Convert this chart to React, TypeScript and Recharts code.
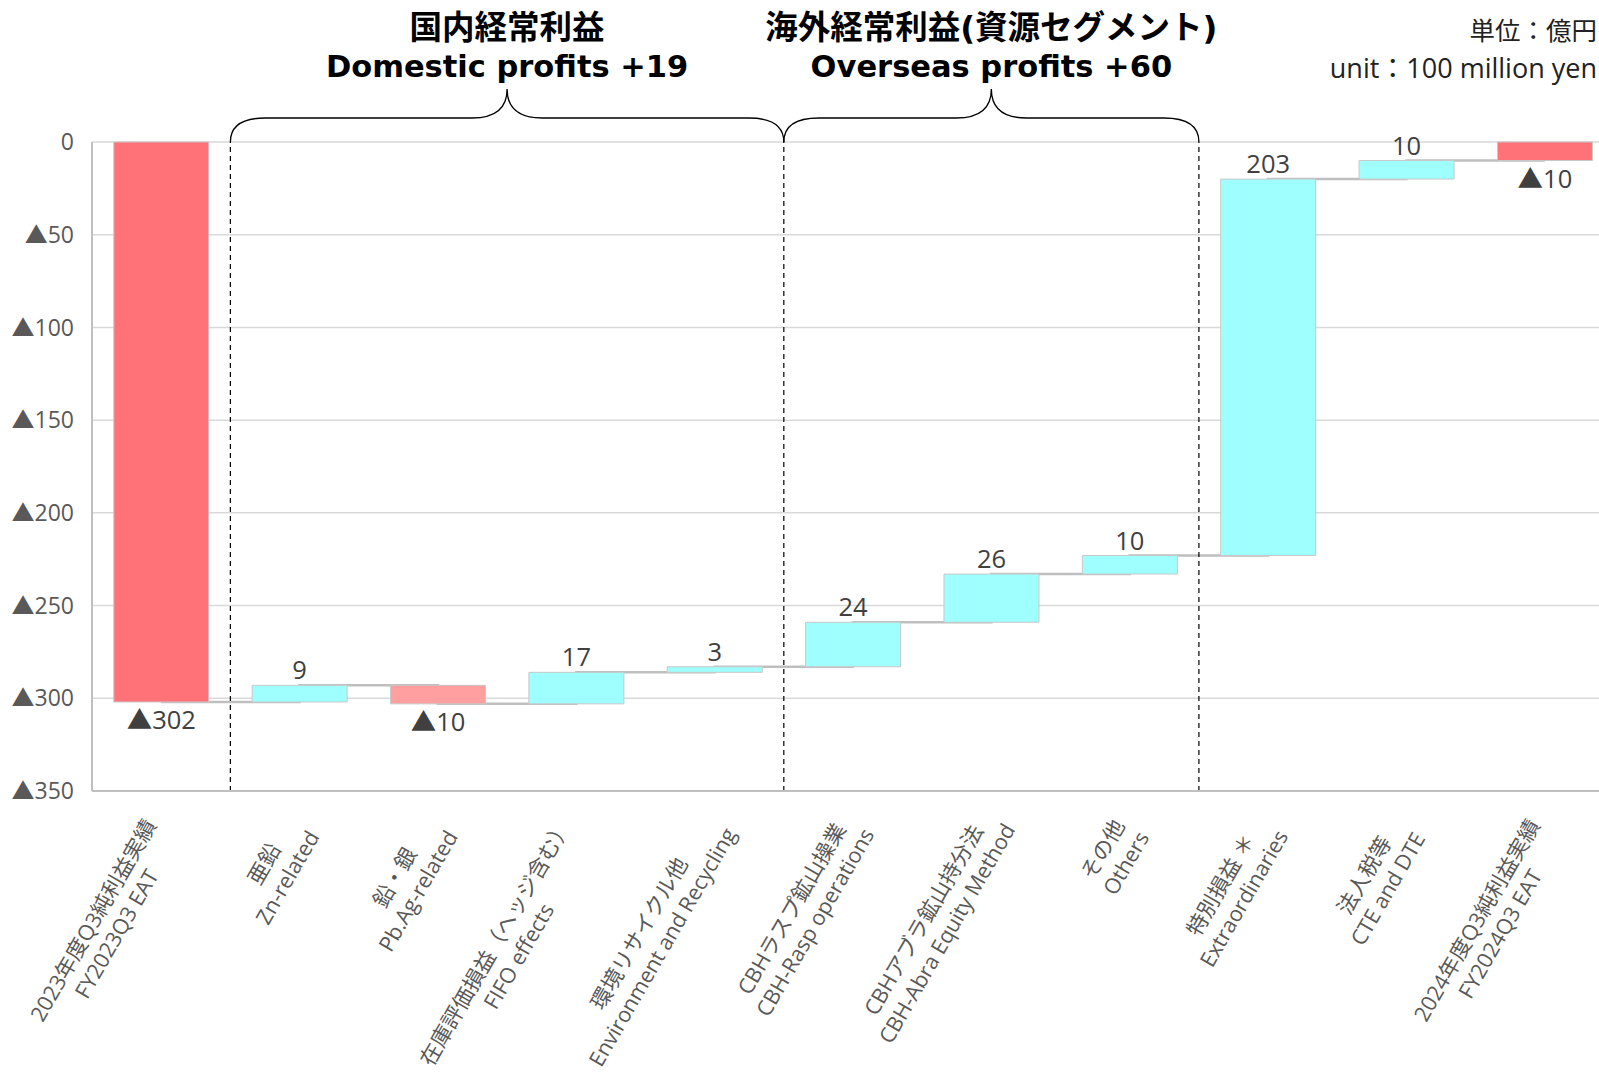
import React from 'react'
import {
  ComposedChart,
  Bar,
  Line,
  XAxis,
  YAxis,
  CartesianGrid,
  Cell,
  LabelList,
  ReferenceLine,
  ReferenceArea,
} from 'recharts'

// categories (JA / EN lines of each axis label)
const catJa = [
  '2023年度Q3純利益実績',
  '亜鉛',
  '鉛・銀',
  '在庫評価損益（ヘッジ含む）',
  '環境リサイクル他',
  'CBHラスプ鉱山操業',
  'CBHアブラ鉱山持分法',
  'その他',
  '特別損益 ＊',
  '法人税等',
  '2024年度Q3純利益実績',
]
const catEn = [
  'FY2023Q3 EAT',
  'Zn-related',
  'Pb.Ag-related',
  'FIFO effects',
  'Environment and Recycling',
  'CBH-Rasp operations',
  'CBH-Abra Equity Method',
  'Others',
  'Extraordinaries',
  'CTE and DTE',
  'FY2024Q3 EAT',
]
// change per step (億円)
const deltas = [-302, 9, -10, 17, 3, 24, 26, 10, 203, 10, -10]
const isTotal = [true, false, false, false, false, false, false, false, false, false, true]
const yTicks = [0, -50, -100, -150, -200, -250, -300, -350]

const COLOR_TOTAL = '#FF7378'
const COLOR_UP = '#9FFFFF'
const COLOR_DOWN = '#FF9F9F'
const FONT = "'Open Sans', 'Noto Sans CJK JP', sans-serif"
const TITLE_FONT = "'DejaVu Sans', 'Noto Sans CJK JP', sans-serif"

let running = 0
const data = catEn.map((en, i) => {
  const d = deltas[i]
  const start = isTotal[i] ? 0 : running
  const end = start + d
  running = end
  return {
    en,
    range: [Math.min(start, end), Math.max(start, end)],
    level: end,
    lbl: d < 0 ? `▲${-d}` : `${d}`,
    color: isTotal[i] ? COLOR_TOTAL : d < 0 ? COLOR_DOWN : COLOR_UP,
  }
})

// rough text width, good enough to centre the two label lines
const textW = (s: string, fs: number) => {
  let w = 0
  for (const ch of s) {
    const c = ch.codePointAt(0) || 0
    if (c > 0x2e80) w += 1
    else if (ch === ' ') w += 0.26
    else if ("iljtfr.,:;'!|-".includes(ch)) w += 0.3
    else if (/[A-Z0-9]/.test(ch)) w += 0.6
    else w += 0.55
  }
  return w * fs
}

const CatTick = (props: any) => {
  const { x, y, payload } = props
  const i = catEn.indexOf(payload.value)
  const fs = 21.5
  const w = Math.max(textW(catJa[i], fs), textW(catEn[i], fs))
  const common = {
    x: -w / 2,
    textAnchor: 'middle' as const,
    dominantBaseline: 'central' as const,
    fontSize: fs,
    fill: '#595959',
    fontFamily: FONT,
  }
  return (
    <g transform={`translate(${x},${y + 37}) rotate(-60)`}>
      <text {...common} y={-13.5}>{catJa[i]}</text>
      <text {...common} y={13.5}>{catEn[i]}</text>
    </g>
  )
}

const ValueLabel = (p: any) => {
  const { x, y, width, height, value } = p
  const top = Math.min(y, y + height)
  const bottom = Math.max(y, y + height)
  const neg = String(value).startsWith('▲')
  return (
    <text
      x={x + width / 2}
      y={neg ? bottom + 17 : top - 16}
      textAnchor="middle"
      dominantBaseline="central"
      fontSize={25.5}
      fill="#404040"
      fontFamily={FONT}
    >
      {value}
    </text>
  )
}

const braceShape = (ja: string, en: string) => (p: any) => {
  const { x, y, width } = p
  const x1 = x
  const x2 = x + width
  const cx = x + width / 2
  const yh = y - 24
  const yt = y - 53
  const r = 35
  const d = `M${x1},${y} Q${x1},${yh} ${x1 + r},${yh} L${cx - r},${yh} Q${cx},${yh} ${cx},${yt} Q${cx},${yh} ${cx + r},${yh} L${x2 - r},${yh} Q${x2},${yh} ${x2},${y}`
  return (
    <g>
      <path d={d} fill="none" stroke="#000" strokeWidth={1.3} />
      <text x={cx} y={y - 114} textAnchor="middle" dominantBaseline="central" fontSize={32.5} fontWeight="bold" fill="#000" fontFamily={TITLE_FONT}>
        {ja}
      </text>
      <text x={cx} y={y - 76} textAnchor="middle" dominantBaseline="central" fontSize={30.5} fontWeight="bold" fill="#000" fontFamily={TITLE_FONT}>
        {en}
      </text>
    </g>
  )
}

const unitStyle = {
  position: 'absolute' as const,
  right: 2,
  textAlign: 'right' as const,
  fontFamily: FONT,
  color: '#222',
  whiteSpace: 'nowrap' as const,
  zIndex: 2,
}

export default function App() {
  return (
    <div style={{ position: 'absolute', left: 0, top: 0, width: 1599, height: 1073, background: '#fff', overflow: 'hidden' }}>
      <div style={{ ...unitStyle, top: 18, fontSize: 25.5, lineHeight: '25.5px' }}>単位：億円</div>
      <div style={{ ...unitStyle, top: 54, fontSize: 27, lineHeight: '27px' }}>unit：100 million yen</div>
      <ComposedChart
        width={1599}
        height={1073}
        data={data}
        margin={{ top: 142, right: -15, left: 0, bottom: 0 }}
        barCategoryGap="15.75%"
      >
        <CartesianGrid stroke="#D9D9D9" strokeWidth={1.5} vertical={false} />
        <XAxis
          dataKey="en"
          height={282}
          interval={0}
          tickLine={false}
          tickSize={0}
          tickMargin={0}
          axisLine={{ stroke: '#BFBFBF', strokeWidth: 2 }}
          tick={<CatTick />}
        />
        <YAxis
          width={92}
          domain={[-350, 0]}
          ticks={yTicks}
          interval={0}
          tickLine={false}
          tickSize={0}
          tickMargin={18}
          axisLine={{ stroke: '#BFBFBF', strokeWidth: 2 }}
          tick={{ fontSize: 23, fill: '#595959', fontFamily: FONT }}
          tickFormatter={(v: number) => (v === 0 ? '0' : `▲${-v}`)}
        />
        <Line
          type="stepAfter"
          dataKey="level"
          stroke="#BFBFBF"
          strokeWidth={2.5}
          dot={false}
          activeDot={false}
          isAnimationActive={false}
          zIndex={250}
        />
        <Bar dataKey="range" stroke="#C8C8C8" strokeWidth={1} isAnimationActive={false}>
          {data.map((d) => (
            <Cell key={d.en} fill={d.color} />
          ))}
          <LabelList dataKey="lbl" content={<ValueLabel />} />
        </Bar>
        <ReferenceLine x={catEn[1]} position="start" stroke="#000" strokeDasharray="5 4" strokeWidth={1.2} />
        <ReferenceLine x={catEn[5]} position="start" stroke="#000" strokeDasharray="5 4" strokeWidth={1.2} />
        <ReferenceLine x={catEn[8]} position="start" stroke="#000" strokeDasharray="5 4" strokeWidth={1.2} />
        <ReferenceArea
          x1={catEn[1]}
          x2={catEn[4]}
          ifOverflow="visible"
          shape={braceShape('国内経常利益', 'Domestic profits +19')}
        />
        <ReferenceArea
          x1={catEn[5]}
          x2={catEn[7]}
          ifOverflow="visible"
          shape={braceShape('海外経常利益(資源セグメント)', 'Overseas profits +60')}
        />
      </ComposedChart>
    </div>
  )
}
